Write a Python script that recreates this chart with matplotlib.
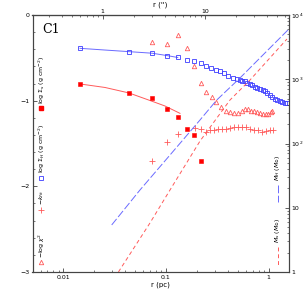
import numpy as np
import matplotlib
matplotlib.use('Agg')
import matplotlib.pyplot as plt
from matplotlib.ticker import FixedLocator, NullFormatter, LogLocator

# ── Data ────────────────────────────────────────────────────────────────────
# log Sigma_H (blue open squares)
r_sigH = [0.01455, 0.0440, 0.0731, 0.1016, 0.130, 0.159, 0.189, 0.219, 0.245, 0.274,
          0.305, 0.336, 0.367, 0.405, 0.447, 0.489, 0.5255, 0.556, 0.588, 0.622,
          0.658, 0.695, 0.736, 0.778, 0.823, 0.871, 0.921, 0.973, 1.030, 1.089,
          1.151, 1.218, 1.288, 1.362, 1.441, 1.507]
sigH = [-0.389, -0.428, -0.443, -0.475, -0.494, -0.529, -0.540, -0.560, -0.592, -0.619,
        -0.642, -0.654, -0.680, -0.709, -0.732, -0.744, -0.759, -0.765, -0.776, -0.794,
        -0.805, -0.817, -0.835, -0.852, -0.864, -0.876, -0.887, -0.905, -0.934, -0.957,
        -0.981, -0.992, -1.004, -1.016, -1.027, -1.027]
# fit to log Sigma_H
r_sigH_fit = [0.01455, 0.02547, 0.0440, 0.0731, 0.1016, 0.1303]
sigH_fit = [-0.389, -0.409, -0.428, -0.446, -0.473, -0.496]

# log Sigma_s (red filled squares)
r_sigS = [0.01465, 0.0437, 0.0731, 0.1016, 0.1318, 0.159, 0.189, 0.218]
sigS = [-0.805, -0.910, -0.972, -1.100, -1.194, -1.327, -1.398, -1.710]
r_sigS_fit = [0.01455, 0.02547, 0.0436, 0.0698, 0.0977, 0.1368]
sigS_fit = [-0.805, -0.846, -0.910, -0.998, -1.062, -1.148]

# -log chi^2 (red open triangles)
r_chi = [0.0727, 0.1016, 0.1318, 0.160, 0.1876, 0.218, 0.247, 0.279, 0.309, 0.341,
         0.380, 0.420, 0.459, 0.502, 0.550, 0.588, 0.628, 0.672, 0.719, 0.769,
         0.823, 0.880, 0.942, 0.996, 1.043, 1.077]
chi = [-0.312, -0.333, -0.233, -0.385, -0.592, -0.797, -0.895, -0.954, -1.016, -1.070,
       -1.115, -1.138, -1.144, -1.144, -1.121, -1.103, -1.103, -1.115, -1.126, -1.132,
       -1.144, -1.156, -1.161, -1.150, -1.132, -1.115]

# -k_fit (red plus)
r_k = [0.0727, 0.1016, 0.1318, 0.1914, 0.219, 0.245, 0.268, 0.293, 0.321, 0.351,
       0.384, 0.420, 0.459, 0.502, 0.550, 0.601, 0.658, 0.719, 0.787, 0.861,
       0.942, 1.030, 1.102]
kfit = [-1.704, -1.488, -1.389, -1.319, -1.325, -1.360, -1.342, -1.337, -1.331, -1.325,
        -1.325, -1.319, -1.307, -1.302, -1.302, -1.313, -1.331, -1.337, -1.348, -1.360,
        -1.354, -1.342, -1.337]

# enclosed masses (right axis, M_sun)
r_MH = [0.0296, 0.0558, 0.1094, 0.2143, 0.312, 0.525, 0.920, 1.542]
MH = [5.40, 18.9, 66.2, 232, 475, 1045, 2565, 5850]
r_Ms = [0.0344, 0.0698, 0.1094, 0.2143, 0.420, 0.658, 1.507]
Ms = [1.0, 5.79, 18.9, 109, 475, 973, 4227]

PC_PER_ARCSEC = 0.02421

RED = '#ff0000'
LRED = '#ff5a5a'
BLUE = '#3c3cff'
LBLUE = '#6a6aff'
AXC = '#444444'

plt.rcParams.update({
    'font.family': 'DejaVu Sans', 'font.size': 4.5,
    'axes.linewidth': 0.8, 'axes.edgecolor': AXC,
    'xtick.color': AXC, 'ytick.color': AXC,
    'xtick.labelcolor': 'black', 'ytick.labelcolor': 'black',
    'xtick.direction': 'in', 'ytick.direction': 'in',
    'xtick.major.size': 3, 'ytick.major.size': 3,
    'xtick.minor.size': 1.5, 'ytick.minor.size': 1.5,
    'xtick.major.width': 0.6, 'ytick.major.width': 0.6,
    'xtick.minor.width': 0.5, 'ytick.minor.width': 0.5,
    'xtick.major.pad': 2, 'ytick.major.pad': 2,
})

fig = plt.figure(figsize=(3.05, 3.05), dpi=100)
ax = fig.add_axes([32.5 / 305, 1 - 272 / 305, 256 / 305, 257 / 305])

ax.set_xscale('log')
ax.set_xlim(0.00501, 1.56)
ax.set_ylim(-3, 0)
ax.yaxis.set_major_locator(FixedLocator([-3, -2, -1, 0]))
ax.yaxis.set_minor_locator(FixedLocator(np.arange(-3, 0.01, 0.2)))
ax.set_yticklabels(['\u22123', '\u22122', '\u22121', '0'])
ax.xaxis.set_major_locator(FixedLocator([0.01, 0.1, 1]))
ax.set_xticklabels(['0.01', '0.1', '1'])
ax.xaxis.set_minor_locator(LogLocator(base=10, subs=np.arange(2, 10)))
ax.xaxis.set_minor_formatter(NullFormatter())
ax.tick_params(top=False, right=False, which='both')
ax.set_xlabel('r (pc)', labelpad=1.5, fontsize=5)

# left-axis quantities
ax.plot(r_sigH_fit, sigH_fit, color=LBLUE, lw=0.7)
ax.plot(r_sigS_fit, sigS_fit, color=LRED, lw=0.7)
ax.plot(r_sigH, sigH, ls='none', marker='s', ms=3, mfc='none', mec=BLUE, mew=0.6)
ax.plot(r_sigS, sigS, ls='none', marker='s', ms=3, mfc=RED, mec=RED, mew=0.4)
ax.plot(r_chi, chi, ls='none', marker='^', ms=3.2, mfc='none', mec=LRED, mew=0.6)
ax.plot(r_k, kfit, ls='none', marker='+', ms=4.5, mec=LRED, mew=0.6)

# right axis: enclosed masses
ax2 = ax.twinx()
ax2.set_yscale('log')
ax2.set_ylim(1, 1e4)
ax2.plot(r_MH, MH, color=LBLUE, lw=0.7, dashes=(8, 2.5))
ax2.plot(r_Ms, Ms, color=LRED, lw=0.7, dashes=(4, 3))
ax2.yaxis.set_major_locator(FixedLocator([1, 10, 100, 1000, 10000]))
ax2.set_yticklabels(['1', '10', '10$^2$', '10$^3$', '10$^4$'])
ax2.yaxis.set_minor_locator(LogLocator(base=10, subs=np.arange(2, 10)))
ax2.yaxis.set_minor_formatter(NullFormatter())
ax2.tick_params(axis='y', which='both', direction='in')

# top axis in arcsec
top = ax.secondary_xaxis('top', functions=(lambda x: x / PC_PER_ARCSEC,
                                            lambda x: x * PC_PER_ARCSEC))
top.xaxis.set_major_locator(FixedLocator([1, 10]))
top.set_xticklabels(['1', '10'])
top.xaxis.set_minor_locator(LogLocator(base=10, subs=np.arange(2, 10)))
top.xaxis.set_minor_formatter(NullFormatter())
top.tick_params(which='both', direction='in', pad=1)
top.set_xlabel("r ('')", labelpad=1.5, fontsize=5)

# panel tag
ax.text(0.04, 0.945, 'C1', transform=ax.transAxes, fontsize=9,
        family='DejaVu Serif', va='center', ha='left')

# left legend (rotated labels with symbols)
T = ax.transAxes
lx = 0.035
def yax(py):
    return (272 - py) / 257

ax.plot([lx], [yax(108.3)], transform=T, marker='s', ms=3, mfc=RED, mec=RED, clip_on=False)
ax.text(lx, yax(80), 'log $\\Sigma_s$ (g cm$^{-2}$)', transform=T, rotation=90,
        ha='center', va='center', fontsize=4.5)
ax.plot([lx], [yax(178.3)], transform=T, marker='s', ms=3, mfc='none', mec=BLUE, mew=0.6,
        clip_on=False)
ax.text(lx, yax(148), 'log $\\Sigma_H$ (g cm$^{-2}$)', transform=T, rotation=90,
        ha='center', va='center', fontsize=4.5)
ax.plot([lx], [yax(210)], transform=T, marker='+', ms=4.5, mec=LRED, mew=0.6, clip_on=False)
ax.text(lx, yax(197), '$-k_{fit}$', transform=T, rotation=90,
        ha='center', va='center', fontsize=4.5)
ax.plot([lx], [yax(262)], transform=T, marker='^', ms=3.2, mfc='none', mec=LRED, mew=0.6,
        clip_on=False)
ax.text(lx, yax(245), '$-$log $\\chi^2$', transform=T, rotation=90,
        ha='center', va='center', fontsize=4.5)

# right legend
rx = (278 - 32.5) / 256
ax.text(rx, yax(168), '$M_H$ ($M_{\\odot}$)', transform=T, rotation=90,
        ha='center', va='center', fontsize=4.5)
ax.plot([rx, rx], [yax(185), yax(202)], transform=T, color=LBLUE, lw=0.7, dashes=(8, 2.5))
ax.text(rx, yax(230), '$M_s$ ($M_{\\odot}$)', transform=T, rotation=90,
        ha='center', va='center', fontsize=4.5)
ax.plot([rx, rx], [yax(247), yax(266)], transform=T, color=LRED, lw=0.7, dashes=(4, 3))

fig.savefig('out.png', dpi=100, facecolor='white')
